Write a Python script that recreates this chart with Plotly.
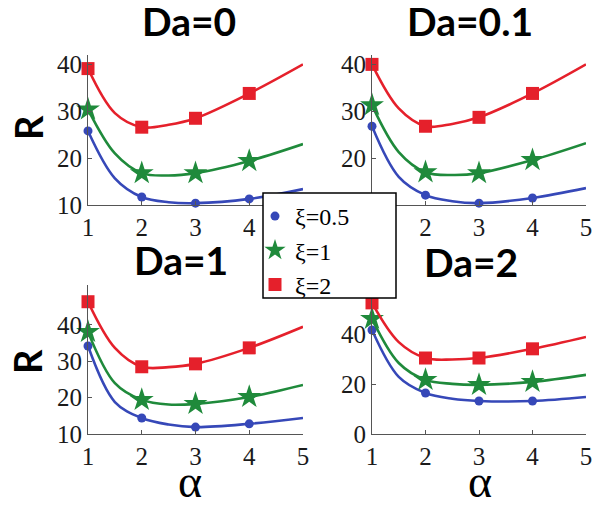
import plotly.graph_objects as go

# alpha positions where the curves are sampled; markers sit on the integer ones
alpha_curve = [1, 1.5, 2, 2.5, 3, 4, 5]
alpha_marks = [1, 2, 3, 4]

# R(alpha) for each Damkohler number and xi
R_da0_xi05 = [25.8, 15.7, 11.7, 10.6, 10.4, 11.3, 13.4]
R_da0_xi1 = [30.4, 21.0, 16.8, 16.3, 16.8, 19.4, 23.0]
R_da0_xi2 = [39.1, 29.6, 26.6, 27.1, 28.5, 33.8, 40.0]

R_da01_xi05 = [26.8, 16.0, 12.1, 10.8, 10.4, 11.5, 13.6]
R_da01_xi1 = [31.3, 21.3, 17.0, 16.4, 16.8, 19.6, 23.2]
R_da01_xi2 = [40.0, 30.6, 26.8, 27.3, 28.7, 33.8, 40.0]

R_da1_xi05 = [34.2, 18.8, 14.4, 12.6, 11.9, 12.8, 14.4]
R_da1_xi1 = [38.1, 24.0, 19.4, 18.1, 18.3, 20.2, 23.5]
R_da1_xi2 = [46.4, 33.7, 28.5, 28.4, 29.3, 33.7, 39.5]

R_da2_xi05 = [41.9, 23.0, 16.5, 14.2, 13.3, 13.3, 14.9]
R_da2_xi1 = [46.4, 28.6, 21.8, 20.2, 19.8, 21.0, 23.8]
R_da2_xi2 = [52.8, 37.0, 30.6, 30.0, 30.6, 34.3, 39.1]

panel_titles = ["Da=0", "Da=0.1", "Da=1", "Da=2"]
xi_labels = ["ξ=0.5", "ξ=1", "ξ=2"]
x_ticks = [1, 2, 3, 4, 5]
# labels that sit under the legend frame are left blank
x_ticktext = [["1", "2", "3", "4", ""], ["", "2", "3", "4", "5"],
              ["1", "2", "3", "4", "5"], ["1", "2", "3", "4", "5"]]
y_ticks = [[10, 20, 30, 40], [10, 20, 30, 40], [10, 20, 30, 40], [0, 20, 40]]
y_ticktext = [["10", "20", "30", "40"], ["", "20", "30", "40"],
              ["10", "20", "30", "40"], ["0", "20", "40"]]
y_ranges = [[10, 42], [10, 42], [10, 51], [0, 60]]

panels = [
    [R_da0_xi05, R_da0_xi1, R_da0_xi2],
    [R_da01_xi05, R_da01_xi1, R_da01_xi2],
    [R_da1_xi05, R_da1_xi1, R_da1_xi2],
    [R_da2_xi05, R_da2_xi1, R_da2_xi2],
]

colors = ["#3648b8", "#1f8a3b", "#e5202b"]
symbols = ["circle", "star", "square"]
msizes = [9, 18, 13]

W, H = 593, 505
# plot-area boxes in pixels: (left, right, top, bottom)
boxes = [(88, 303, 55, 205), (372, 586, 55, 205),
         (88, 303, 285, 434), (372, 586, 285, 434)]
# legend frame in pixels: (left, top, right, bottom)
legend_box = (263, 193, 396, 298)

fig = go.Figure()

for p, series in enumerate(panels):
    ax = "" if p == 0 else str(p + 1)
    for s, vals in enumerate(series):
        fig.add_trace(go.Scatter(
            x=alpha_curve, y=vals, mode="lines",
            line=dict(color=colors[s], width=2.6, shape="spline", smoothing=1.0),
            xaxis="x" + ax, yaxis="y" + ax, showlegend=False, hoverinfo="skip"))
        mk_y = [v for a, v in zip(alpha_curve, vals) if a in alpha_marks]
        fig.add_trace(go.Scatter(
            x=alpha_marks, y=mk_y, mode="markers",
            marker=dict(color=colors[s], symbol=symbols[s], size=msizes[s],
                        line=dict(width=0)),
            xaxis="x" + ax, yaxis="y" + ax, cliponaxis=False,
            name=xi_labels[s], showlegend=(p == 0)))

axis_common = dict(showline=True, linecolor="#555555", linewidth=1.2,
                   ticks="inside", ticklen=4, tickcolor="#555555",
                   showgrid=False, zeroline=False, automargin=False,
                   tickfont=dict(family="Liberation Serif", size=25, color="#1a1a1a"))

layout = dict(width=W, height=H, margin=dict(l=0, r=0, t=0, b=0, autoexpand=False),
              paper_bgcolor="white", plot_bgcolor="white")

for p, (l, r, t, b) in enumerate(boxes):
    ax = "" if p == 0 else str(p + 1)
    layout["xaxis" + ax] = dict(axis_common, domain=[l / W, r / W], range=[1, 5],
                                tickvals=x_ticks, ticktext=x_ticktext[p],
                                anchor="y" + ax)
    layout["yaxis" + ax] = dict(axis_common, domain=[1 - b / H, 1 - t / H],
                                range=y_ranges[p], tickvals=y_ticks[p],
                                ticktext=y_ticktext[p], anchor="x" + ax)

fig.update_layout(**layout)

# white framed box behind the legend entries
lx0, ly0, lx1, ly1 = legend_box
fig.add_shape(type="rect", xref="paper", yref="paper", layer="above",
              x0=lx0 / W, x1=lx1 / W, y0=1 - ly1 / H, y1=1 - ly0 / H,
              fillcolor="white", line=dict(color="black", width=1.5))

fig.update_layout(legend=dict(
    x=(lx0 - 8) / W, y=1 - (ly0 + 1) / H, xanchor="left", yanchor="top",
    bgcolor="rgba(0,0,0,0)", borderwidth=0,
    font=dict(family="Liberation Serif", size=24, color="black"),
    itemwidth=30, tracegroupgap=0))

title_pos = [(189, 21), (470, 21), (181, 260), (471, 262)]
for txt, (cx, cy) in zip(panel_titles, title_pos):
    fig.add_annotation(text="<b>" + txt + "</b>", x=cx / W, y=1 - cy / H,
                       xref="paper", yref="paper", showarrow=False,
                       xanchor="center", yanchor="middle",
                       font=dict(family="Lato", size=39, color="black"))

for cx, cy in [(28, 128), (27, 362)]:
    fig.add_annotation(text="<b>R</b>", x=cx / W, y=1 - cy / H, textangle=-90,
                       xref="paper", yref="paper", showarrow=False,
                       xanchor="center", yanchor="middle",
                       font=dict(family="Lato", size=38, color="black"))

for cx, cy in [(190, 481), (480, 481)]:
    fig.add_annotation(text="α", x=cx / W, y=1 - cy / H,
                       xref="paper", yref="paper", showarrow=False,
                       xanchor="center", yanchor="middle",
                       font=dict(family="Liberation Serif", size=46, color="black"))

fig.write_html("out.html")
